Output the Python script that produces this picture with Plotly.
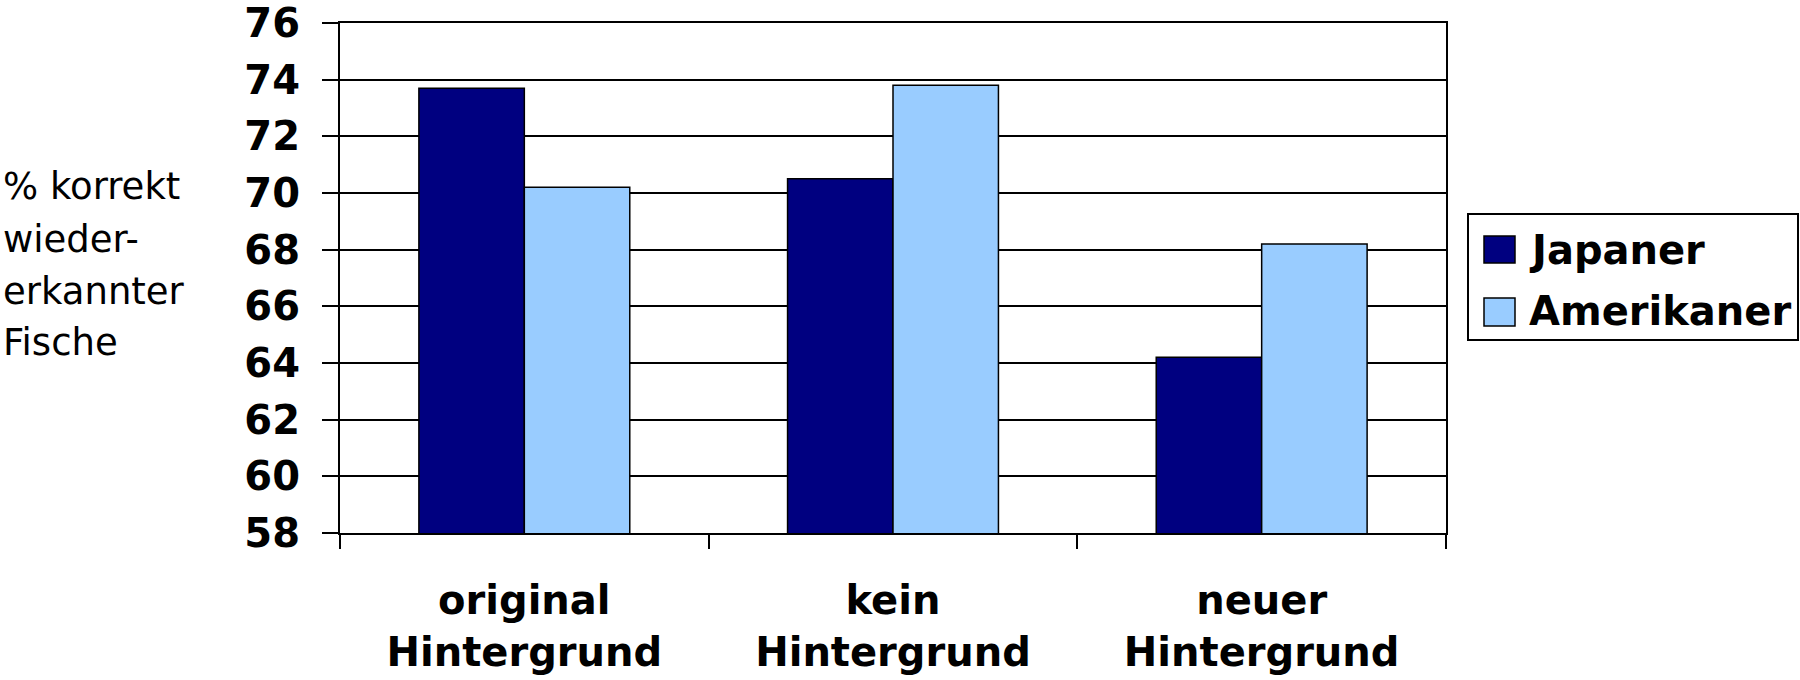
import plotly.graph_objects as go

# Data
categories = ["original<br>Hintergrund", "kein<br>Hintergrund", "neuer<br>Hintergrund"]
series_names = ["Japaner", "Amerikaner"]
japaner = [73.7, 70.5, 64.2]
amerikaner = [70.2, 73.8, 68.2]
y_ticks = [58, 60, 62, 64, 66, 68, 70, 72, 74, 76]
y_title_lines = ["% korrekt", "wieder-", "erkannter", "Fische"]

series_colors = ["#000080", "#99CCFF"]

# Canvas and plot-area geometry (pixels)
W, H = 1800, 680
L, R, T, B = 340, 354, 23, 147
PW, PH = W - L - R, H - T - B


def px_x(px):
    return (px - L) / PW


def px_y(py):
    return (H - B - py) / PH


FONT = "DejaVu Sans"

fig = go.Figure()
for name, vals, col in zip(series_names, [japaner, amerikaner], series_colors):
    fig.add_trace(go.Bar(
        x=categories, y=vals, name=name,
        marker=dict(color=col, line=dict(color="black", width=1.5)),
        showlegend=False,
    ))

fig.update_layout(
    width=W, height=H,
    margin=dict(l=L, r=R, t=T, b=B, autoexpand=False),
    paper_bgcolor="white", plot_bgcolor="white",
    barmode="group", bargap=0.428, bargroupgap=0,
    showlegend=False,
    xaxis=dict(
        automargin=False,
        showline=True, linecolor="black", linewidth=2, mirror=True,
        ticks="outside", ticklen=14, tickwidth=2, tickcolor="black",
        tickson="boundaries", showgrid=False,
        tickfont=dict(family=FONT, size=40, color="black", weight="bold"),
        ticklabelstandoff=31,
    ),
    yaxis=dict(
        automargin=False,
        range=[58, 76], tickvals=y_ticks,
        showgrid=True, gridcolor="black", gridwidth=2, zeroline=False,
        showline=True, linecolor="black", linewidth=2, mirror=True,
        ticks="outside", ticklen=16, tickwidth=2, tickcolor="black",
        tickfont=dict(family=FONT, size=40, color="black", weight="bold"),
        ticklabelstandoff=14,
    ),
)

# Multi-line y-axis title on the left
title_centers = [187, 239, 291, 342]
for line, cy in zip(y_title_lines, title_centers):
    fig.add_annotation(
        text=line, xref="paper", yref="paper",
        x=px_x(1), y=px_y(cy), xanchor="left", yanchor="middle",
        showarrow=False, align="left",
        font=dict(family=FONT, size=37, color="black"),
    )

# Legend box with swatches
shapes = [dict(type="rect", xref="paper", yref="paper",
               x0=px_x(1468), x1=px_x(1798), y0=px_y(340), y1=px_y(214),
               line=dict(color="black", width=2), fillcolor="white", layer="above")]
swatch_rows = [(236, 263), (298, 326)]
text_centers = [250, 311]
for (top, bot), name, col, cy in zip(swatch_rows, series_names, series_colors, text_centers):
    shapes.append(dict(type="rect", xref="paper", yref="paper",
                       x0=px_x(1484), x1=px_x(1515), y0=px_y(bot), y1=px_y(top),
                       line=dict(color="black", width=1.5), fillcolor=col, layer="above"))
    fig.add_annotation(
        text=name, xref="paper", yref="paper",
        x=px_x(1527), y=px_y(cy), xanchor="left", yanchor="middle",
        showarrow=False,
        font=dict(family=FONT, size=40, color="black", weight="bold"),
    )
fig.update_layout(shapes=shapes)

fig.write_html("out.html")
